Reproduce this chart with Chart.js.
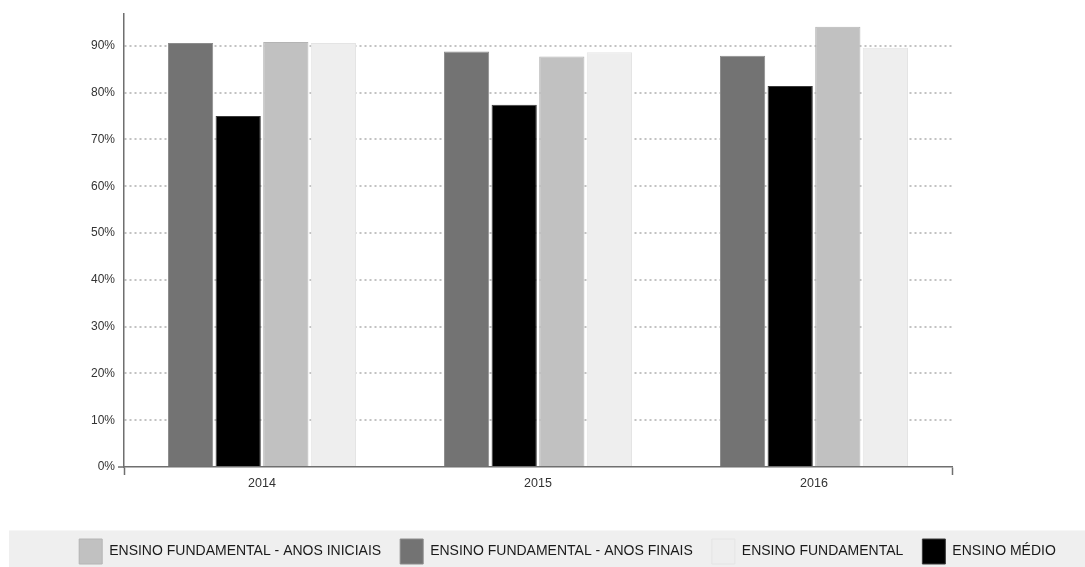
<!DOCTYPE html>
<html>
<head>
<meta charset="utf-8">
<script src="https://cdn.jsdelivr.net/npm/chart.js@4/dist/chart.umd.min.js"></script>
<style>
  html, body { margin: 0; padding: 0; background: #fff; }
  #wrap { width: 1085px; height: 567px; position: relative; }
</style>
</head>
<body>
<div id="wrap"><canvas id="c" width="1085" height="567"></canvas></div>
<script>
// Taxa de aprovação por etapa de ensino (%)
const years = ['2014', '2015', '2016'];
const anosFinais = [90.6, 88.8, 87.9];
const ensinoMedio = [75.0, 77.4, 81.4];
const anosIniciais = [90.8, 87.7, 94.1];
const ensinoFundamental = [90.6, 88.6, 89.6];

const seriesNames = [
  'ENSINO FUNDAMENTAL - ANOS FINAIS',
  'ENSINO MÉDIO',
  'ENSINO FUNDAMENTAL - ANOS INICIAIS',
  'ENSINO FUNDAMENTAL'
];
const legendOrder = [
  'ENSINO FUNDAMENTAL - ANOS INICIAIS',
  'ENSINO FUNDAMENTAL - ANOS FINAIS',
  'ENSINO FUNDAMENTAL',
  'ENSINO MÉDIO'
];
const yTicks = [0, 10, 20, 30, 40, 50, 60, 70, 80, 90];

const FONT = "'Liberation Sans', Arial, sans-serif";
const AXIS = '#6f6f6f';

// grey band behind the legend, and legend nudged into it
const legendBand = {
  id: 'legendBand',
  afterLayout(chart) {
    const lg = chart.legend;
    if (!lg) return;
    lg.top += 7; lg.bottom += 7;
    lg.left += 25; lg.right += 25;
  },
  beforeDraw(chart) {
    const ctx = chart.ctx;
    ctx.save();
    ctx.fillStyle = '#efefef';
    ctx.fillRect(9, 530, chart.width - 9, chart.height - 530);
    ctx.fillStyle = '#f6f6f6';
    ctx.fillRect(9, 530, chart.width - 9, 1);
    ctx.restore();
  }
};

new Chart(document.getElementById('c'), {
  type: 'bar',
  data: {
    labels: years,
    datasets: [
      { label: seriesNames[0], data: anosFinais, backgroundColor: '#737373', borderColor: '#8c8c8c' },
      { label: seriesNames[1], data: ensinoMedio, backgroundColor: '#000000', borderColor: '#3a3a3a' },
      { label: seriesNames[2], data: anosIniciais, backgroundColor: '#c1c1c1', borderColor: '#b4b4b4' },
      { label: seriesNames[3], data: ensinoFundamental, backgroundColor: '#eeeeee', borderColor: '#e4e4e4' }
    ].map(d => Object.assign(d, {
      borderWidth: 1,
      categoryPercentage: 0.69,
      barPercentage: 0.95
    }))
  },
  options: {
    responsive: false,
    animation: false,
    devicePixelRatio: 1,
    layout: { padding: { top: 14, left: 0, right: 0, bottom: 0 } },
    plugins: {
      tooltip: { enabled: false },
      legend: {
        position: 'bottom',
        labels: {
          boxWidth: 23,
          boxHeight: 25,
          padding: 19,
          color: '#1a1a1a',
          font: { family: FONT, size: 14 },
          sort: (a, b) => legendOrder.indexOf(a.text) - legendOrder.indexOf(b.text)
        }
      }
    },
    scales: {
      x: {
        grid: {
          offset: true,
          drawOnChartArea: false,
          tickLength: 8,
          tickWidth: 1.5,
          tickColor: ctx => (ctx.type === 'scale' || ctx.index === 0) ? AXIS : 'rgba(0,0,0,0)'
        },
        border: { color: AXIS, width: 1.5 },
        ticks: { color: '#333', padding: 1, font: { family: FONT, size: 12.5 } },
        afterFit(s) { s.height = 46; }
      },
      y: {
        min: 0,
        max: 96.8,
        afterBuildTicks(s) { s.ticks = yTicks.map(v => ({ value: v })); },
        grid: {
          color: ctx => ctx.index === 0 ? 'rgba(0,0,0,0)' : '#c2c2c2',
          lineWidth: 2,
          tickLength: 6,
          tickWidth: 1.5,
          tickColor: ctx => ctx.index === 0 ? AXIS : 'rgba(0,0,0,0)',
          tickBorderDash: []
        },
        border: { color: AXIS, width: 1.5, dash: [2, 3] },
        ticks: {
          color: '#333',
          padding: 3,
          font: { family: FONT, size: 12 },
          callback: v => v + '%'
        },
        afterFit(s) { s.width = 124; }
      },
      yRight: {
        position: 'right',
        display: true,
        grid: { display: false },
        border: { display: false },
        ticks: { display: false },
        afterFit(s) { s.width = 133; }
      }
    }
  },
  plugins: [legendBand]
});
</script>
</body>
</html>
